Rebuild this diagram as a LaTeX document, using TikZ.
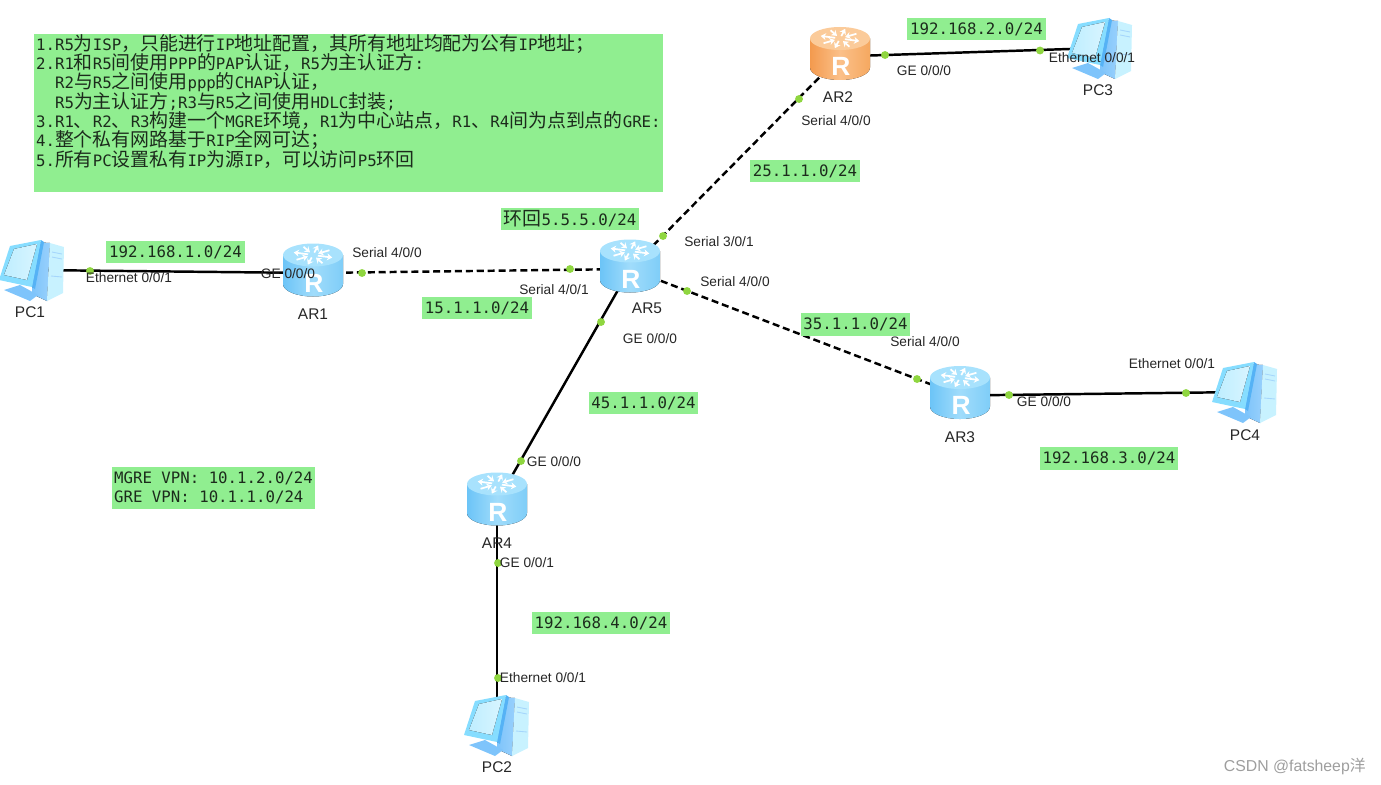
\documentclass[tikz,border=0pt]{standalone}
\usepackage{fontspec}
\setmainfont{Liberation Sans}
\setmonofont{DejaVu Sans Mono}
\newfontfamily\zhfont{Noto Sans CJK SC}
\usetikzlibrary{arrows.meta}
\definecolor{boxgreen}{HTML}{90EE90}
\definecolor{portgreen}{HTML}{8FD640}
\definecolor{txtdark}{HTML}{1C2B1C}
\definecolor{towermid}{HTML}{7EC4FB}
\definecolor{towerside}{HTML}{C8F2FF}
\definecolor{monframe}{HTML}{86DDFF}
\definecolor{monedge}{HTML}{55B2F5}
\definecolor{monscreen}{HTML}{B8ECFF}
\definecolor{blueA}{HTML}{6CC4F7}
\definecolor{blueB}{HTML}{A0DCFB}
\definecolor{blueC}{HTML}{7FCDF8}
\definecolor{blueD}{HTML}{A8E2FD}
\definecolor{orangeA}{HTML}{F39A4E}
\definecolor{orangeB}{HTML}{FBC089}
\definecolor{orangeC}{HTML}{F5A860}
\definecolor{orangeD}{HTML}{FBCB9A}
\newcommand{\zh}[1]{{\zhfont\fontsize{10.77}{11}\selectfont #1}}
\newcommand{\ind}{\hspace*{10.8pt}}
\begin{document}
\begin{tikzpicture}[
    x=0.02cm, y=-0.02cm,
    dev/.style={inner sep=0pt, minimum size=0pt},
    port/.style={circle, fill=portgreen, inner sep=0pt, minimum size=4.5pt},
    link/.style={line width=1.4pt, black},
    slink/.style={line width=1.4pt, black, dash pattern=on 4pt off 2.2pt},
    iface/.style={font=\fontsize{7.8}{9}\selectfont, text=black!85, inner sep=0pt},
    devname/.style={font=\fontsize{8.8}{10}\selectfont, text=black!85, inner sep=0pt},
    net/.style={fill=boxgreen, text=txtdark, inner xsep=1.6pt, inner ysep=0pt, minimum height=12.6pt,
                font=\ttfamily\fontsize{8.95}{11}\selectfont},
    pics/router/.style n args={4}{code={
        \fill[left color=#1, right color=#3, middle color=#2]
            (-30,-18) -- (-30,11) arc[start angle=180, end angle=0, x radius=30, y radius=12.5] -- (30,-18) -- cycle;
        \fill[#4] (0,-18) circle[x radius=30, y radius=11.5];
        \begin{scope}[shift={(0,-18)}, yscale=.5]
            \foreach \a in {0,90,180,270} {
                \draw[white, line width=1pt, -{Stealth[length=3pt, width=4pt]}] (\a+15:5) -- (\a+15:20);
                \draw[white, line width=1pt, -{Stealth[length=3pt, width=4pt]}] (\a+60:19) -- (\a+60:6);
            }
        \end{scope}
        \node[text=white, inner sep=0pt, font=\bfseries\fontsize{15}{16}\selectfont] (rlet) at (1,10) {R};
    }},
    pics/pcicon/.style={code={
        \fill[left color=towermid, right color=towermid!80!white]
            (2,-28) -- (18,-27) -- (15,31) -- (0,24) -- cycle;
        \fill[towerside] (18,-27) -- (32,-23) -- (31,23) -- (15,31) -- cycle;
        \draw[towermid!70!white, line width=.5pt] (20,-18) -- (30,-16) (20,-13) -- (30,-11) (19,6) -- (30,7);
        \fill[towermid] (-28,20) -- (-12,15) -- (6,25) -- (-2,31) -- cycle;
        \fill[monedge] (9,-30) -- (12,-28) -- (3,19) -- (0,17) -- cycle;
        \fill[monframe] (-22,-24) -- (9,-30) -- (0,17) -- (-33,10) -- cycle;
        \fill[left color=monscreen!90!white, right color=monscreen!55!white] (-18,-21) -- (5,-26) -- (-5,10) -- (-28,5) -- cycle;
    }}
]
    \useasboundingbox (0,0) rectangle (1381,784);

    % devices
    \node[dev] (pc1) at (32,270) {};
    \node[dev] (ar1) at (313,273) {};
    \node[dev] (ar5) at (630,269) {};
    \node[dev] (ar2) at (840,56.5) {};
    \node[dev] (pc3) at (1100,48) {};
    \node[dev] (ar3) at (960,395.5) {};
    \node[dev] (pc4) at (1245,392) {};
    \node[dev] (ar4) at (497,502) {};
    \node[dev] (pc2) at (497,725) {};

    % links
    \draw[link]  (pc1) -- (ar1);
    \draw[slink] (ar1) -- (ar5);
    \draw[slink] (ar5) -- (ar2);
    \draw[link]  (ar2) -- (pc3);
    \draw[slink] (ar5) -- (ar3);
    \draw[link]  (ar3) -- (pc4);
    \draw[link]  (ar5) -- (ar4);
    \draw[link]  (ar4) -- (pc2);

    \node[port] (d1) at (90,271) {};
    \node[port] (d2) at (362,273) {};
    \node[port] (d3) at (570,269) {};
    \node[port] (d4) at (663,236) {};
    \node[port] (d5) at (799,99) {};
    \node[port] (d6) at (885,55) {};
    \node[port] (d7) at (1040,50.5) {};
    \node[port] (d8) at (687,291) {};
    \node[port] (d9) at (917,379) {};
    \node[port] (d10) at (1009,395) {};
    \node[port] (d11) at (1186,393) {};
    \node[port] (d12) at (601,322) {};
    \node[port] (d13) at (521,461) {};
    \node[port] (d14) at (498,563) {};
    \node[port] (d15) at (498,678) {};

    % icons
    \pic at (pc1) {pcicon};
    \pic at (pc2) {pcicon};
    \pic at (pc3) {pcicon};
    \pic at (pc4) {pcicon};
    \pic at (ar1) {router={blueA}{blueB}{blueC}{blueD}};
    \pic at (ar3) {router={blueA}{blueB}{blueC}{blueD}};
    \pic at (ar4) {router={blueA}{blueB}{blueC}{blueD}};
    \pic at (ar5) {router={blueA}{blueB}{blueC}{blueD}};
    \pic at (ar2) {router={orangeA}{orangeB}{orangeC}{orangeD}};

    \node[devname] (lpc1) at (30,312) {PC1};
    \node[devname] (lar1) at (313,314) {AR1};
    \node[devname] (lar5) at (647,308) {AR5};
    \node[devname] (lar2) at (838,97) {AR2};
    \node[devname] (lpc3) at (1098,90) {PC3};
    \node[devname] (lar3) at (960,437) {AR3};
    \node[devname] (lpc4) at (1245,435) {PC4};
    \node[devname] (lar4) at (497,543) {AR4};
    \node[devname] (lpc2) at (497,767) {PC2};

    \node[iface] (i1) at (129,278) {Ethernet 0/0/1};
    \node[iface] (i2) at (288,274) {GE 0/0/0};
    \node[iface] (i3) at (387,253) {Serial 4/0/0};
    \node[iface] (i4) at (554,290) {Serial 4/0/1};
    \node[iface] (i5) at (719,242) {Serial 3/0/1};
    \node[iface] (i6) at (735,282) {Serial 4/0/0};
    \node[iface] (i7) at (650,339) {GE 0/0/0};
    \node[iface] (i8) at (554,462) {GE 0/0/0};
    \node[iface] (i9) at (527,563) {GE 0/0/1};
    \node[iface] (i10) at (543,678) {Ethernet 0/0/1};
    \node[iface] (i11) at (925,342) {Serial 4/0/0};
    \node[iface] (i12) at (1044,402) {GE 0/0/0};
    \node[iface] (i13) at (1172,364) {Ethernet 0/0/1};
    \node[iface] (i14) at (836,121) {Serial 4/0/0};
    \node[iface] (i15) at (924,71) {GE 0/0/0};
    \node[iface] (i16) at (1092,58) {Ethernet 0/0/1};

    \node[net] (n1) at (175.5,252) {192.168.1.0/24};
    \node[net] (n2) at (477,308) {15.1.1.0/24};
    \node[net] (n3) at (805,171) {25.1.1.0/24};
    \node[net] (n4) at (976.5,29) {192.168.2.0/24};
    \node[net] (n5) at (855.5,324.5) {35.1.1.0/24};
    \node[net] (n6) at (643.5,403) {45.1.1.0/24};
    \node[net] (n7) at (1109,458.5) {192.168.3.0/24};
    \node[net] (n8) at (601,623) {192.168.4.0/24};
    \node[net] (n9) at (570,219) {\zh{环回}5.5.5.0/24};

    \node[net, anchor=north west, align=left, inner xsep=1pt, inner ysep=2.5pt, minimum height=0pt]
        (vpn) at (112,467) {MGRE VPN: 10.1.2.0/24\\GRE VPN: 10.1.1.0/24};

    \node[fill=boxgreen, text=txtdark, anchor=north west, align=left, text width=356pt, minimum height=89.3pt,
          inner xsep=1pt, inner ysep=0pt, font=\ttfamily\fontsize{8.95}{11}\selectfont]
        (task) at (34,34) {%
        1.R5\zh{为}ISP\zh{，只能进行}IP\zh{地址配置，其所有地址均配为公有}IP\zh{地址；}\\
        2.R1\zh{和}R5\zh{间使用}PPP\zh{的}PAP\zh{认证，}R5\zh{为主认证方}:\\
        \ind R2\zh{与}R5\zh{之间使用}ppp\zh{的}CHAP\zh{认证，}\\
        \ind R5\zh{为主认证方};R3\zh{与}R5\zh{之间使用}HDLC\zh{封装};\\
        3.R1\zh{、}R2\zh{、}R3\zh{构建一个}MGRE\zh{环境，}R1\zh{为中心站点，}R1\zh{、}R4\zh{间为点到点的}GRE:\\
        4.\zh{整个私有网路基于}RIP\zh{全网可达；}\\
        5.\zh{所有}PC\zh{设置私有}IP\zh{为源}IP\zh{，可以访问}P5\zh{环回}\\[0.4pt]
        \strut};

    \node[anchor=east, inner sep=0pt, text=black!38, font=\fontsize{9}{11}\selectfont]
        (mark) at (1366,766) {CSDN @fatsheep\zhfont 洋};
\end{tikzpicture}
\end{document}
